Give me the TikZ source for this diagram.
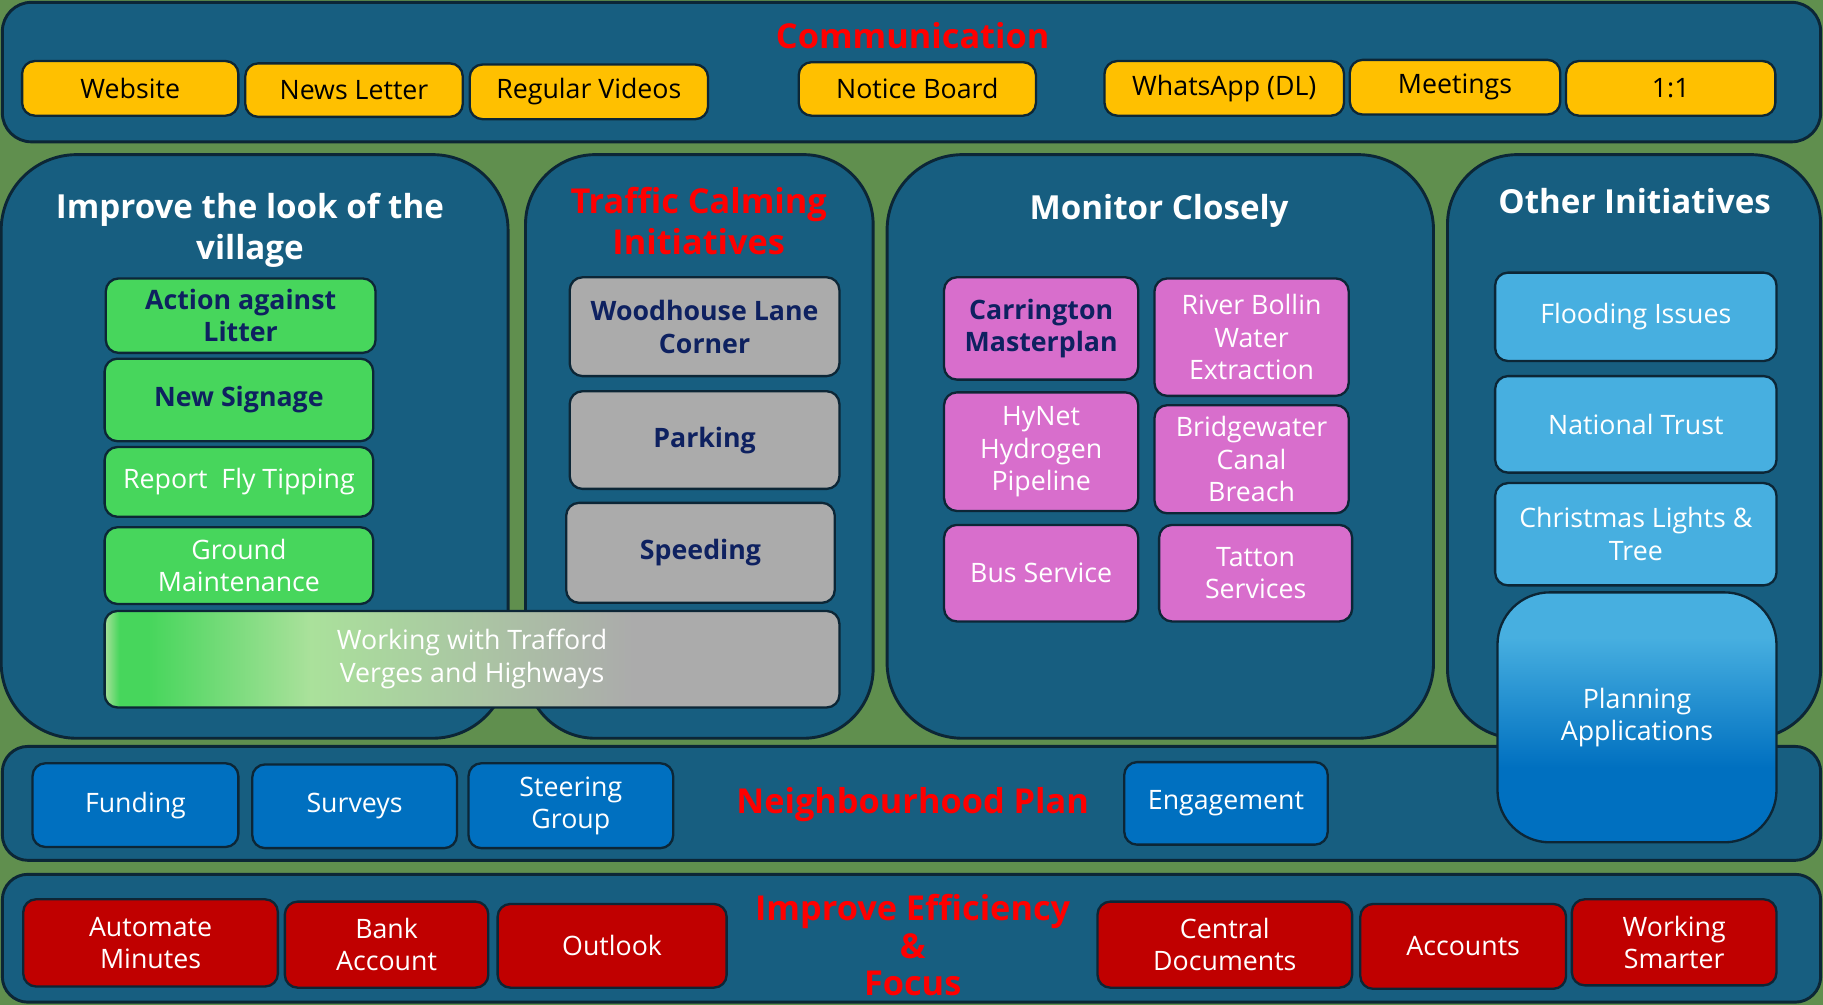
\documentclass[tikz,border=0pt]{standalone}
\usepackage{fontspec}
\setmainfont{Open Sans}

\definecolor{bggreen}{RGB}{96,143,78}
\definecolor{panelblue}{RGB}{23,94,128}
\definecolor{edge}{RGB}{12,38,54}
\definecolor{navy}{RGB}{14,33,96}
\definecolor{yellowbox}{RGB}{255,192,0}
\definecolor{itgreen}{RGB}{71,214,92}
\definecolor{palegreen}{RGB}{170,225,155}
\definecolor{itgrey}{RGB}{171,171,171}
\definecolor{pinkbox}{RGB}{216,110,204}
\definecolor{skyblue}{RGB}{71,175,224}
\definecolor{itblue}{RGB}{0,112,192}
\definecolor{redbox}{RGB}{192,0,0}

\pgfdeclarehorizontalshading{vergeshade}{100bp}{color(0bp)=(itgreen); color(25bp)=(palegreen); color(26bp)=(itgreen); color(28bp)=(itgreen); color(39bp)=(palegreen); color(61bp)=(itgrey); color(100bp)=(itgrey)}
\pgfdeclareverticalshading{planshade}{100bp}{color(0bp)=(itblue); color(40bp)=(itblue); color(66bp)=(skyblue); color(100bp)=(skyblue)}

\begin{document}
\begin{tikzpicture}[x=1pt, y=-1pt,
    panel/.style={draw=edge, line width=2.5pt, fill=panelblue},
    item/.style={draw=edge, line width=2pt, rounded corners=11pt, align=center,
      inner sep=2pt, text=white, font=\fontsize{23}{28}\selectfont},
    ttl/.style={align=center, font=\bfseries\fontsize{28.5}{35}\selectfont},
    redttl/.style={ttl, text=red, font=\bfseries\fontsize{29.5}{35}\selectfont},
    yel/.style={item, fill=yellowbox, text=black},
    grn/.style={item, fill=itgreen},
    gry/.style={item, fill=itgrey},
    pnk/.style={item, fill=pinkbox},
    sky/.style={item, fill=skyblue},
    blu/.style={item, fill=itblue},
    rd/.style={item, fill=redbox},
    strong/.style={text=navy, font=\bfseries\fontsize{23}{28}\selectfont}]
  \useasboundingbox (0,0) rectangle (1568,864);
  \fill[bggreen] (0,0) rectangle (1568,864);

  % panels
  \draw[panel, rounded corners=25pt] (2,2) rectangle (1566,122);
  \draw[panel, rounded corners=65pt] (1,133) rectangle (437,635);
  \draw[panel, rounded corners=60pt] (452,133) rectangle (751,635);
  \draw[panel, rounded corners=65pt] (763,133) rectangle (1233,635);
  \draw[panel, rounded corners=60pt] (1245,133) rectangle (1566,635);
  \draw[panel, rounded corners=22pt] (2,642) rectangle (1566,740);
  \draw[panel, rounded corners=22pt] (2,752) rectangle (1566,862);

  % communication
  \node[redttl] (tcomm) at (785,31) {Communication};
  \node[yel, minimum width=186, minimum height=47] (web) at (112,76) {Website};
  \node[yel, minimum width=187, minimum height=46] (news) at (304.5,77.5) {News Letter};
  \node[yel, minimum width=205, minimum height=47] (videos) at (506.5,79) {Regular Videos};
  \node[yel, minimum width=204, minimum height=46] (notice) at (789,76.5) {Notice Board};
  \node[yel, minimum width=206, minimum height=47] (whatsapp) at (1053,76) {WhatsApp (DL)};
  \node[yel, minimum width=181, minimum height=47] (meetings) at (1251.5,75) {Meetings};
  \node[yel, minimum width=180, minimum height=47] (oneone) at (1437,76) {1:1};

  % improve the look of the village
  \node[ttl, text=white] (tlook) at (215,198) {Improve the look of the\\village};
  \node[grn, strong, minimum width=232, minimum height=64] (litter) at (207,271.5) {Action against\\Litter};
  \node[grn, strong, minimum width=231, minimum height=71] (signage) at (205.5,344) {New Signage};
  \node[grn, minimum width=231, minimum height=60] (tipping) at (205.5,414.5) {Report~ Fly Tipping};
  \node[grn, minimum width=231, minimum height=66] (ground) at (205.5,486.5) {Ground\\Maintenance};

  % traffic calming
  \node[redttl] (ttraffic) at (601,190) {Traffic Calming\\Initiatives};
  \node[gry, strong, minimum width=232, minimum height=85] (woodhouse) at (606,281) {Woodhouse Lane\\Corner};
  \node[gry, strong, minimum width=232, minimum height=84] (parking) at (606,378.5) {Parking};
  \node[gry, strong, minimum width=231, minimum height=86] (speeding) at (602.5,475.5) {Speeding};
  \node[item, shading=vergeshade, minimum width=632, minimum height=83] (verges) at (406,567) {Working with Trafford\\Verges and Highways};

  % monitor closely
  \node[ttl, text=white] (tmonitor) at (997,181) {Monitor Closely};
  \node[pnk, strong, minimum width=167, minimum height=88] (carrington) at (895.5,282.5) {Carrington\\Masterplan};
  \node[pnk, minimum width=167, minimum height=101] (bollin) at (1076.5,290) {River Bollin\\Water\\Extraction};
  \node[pnk, minimum width=167, minimum height=102] (hynet) at (895.5,388.5) {HyNet\\Hydrogen\\Pipeline};
  \node[pnk, minimum width=167, minimum height=93] (bridgewater) at (1076.5,395) {Bridgewater\\Canal\\Breach};
  \node[pnk, minimum width=167, minimum height=83] (bus) at (895.5,493) {Bus Service};
  \node[pnk, minimum width=166, minimum height=83] (tatton) at (1080,493) {Tatton\\Services};

  % other initiatives
  \node[ttl, text=white] (tother) at (1406,173) {Other Initiatives};
  \node[sky, minimum width=242, minimum height=76] (flooding) at (1407,272.5) {Flooding Issues};
  \node[sky, minimum width=242, minimum height=83] (trust) at (1407,365) {National Trust};
  \node[sky, minimum width=242, minimum height=88] (xmas) at (1407,459.5) {Christmas Lights \&\\Tree};

  % neighbourhood plan
  \node[redttl] (tplan) at (785,692) {Neighbourhood Plan};
  \node[blu, minimum width=177, minimum height=72] (funding) at (116.5,692.5) {Funding};
  \node[blu, minimum width=176, minimum height=72] (surveys) at (305,693.5) {Surveys};
  \node[blu, minimum width=176, minimum height=73] (steering) at (491,693) {Steering\\Group};
  \node[blu, minimum width=175, minimum height=71] (engagement) at (1054.5,691) {Engagement};
  \node[item, rounded corners=45pt, shading=planshade, minimum width=240, minimum height=215] (planning) at (1408,617) {Planning\\Applications};

  % improve efficiency & focus
  \node[redttl, font=\bfseries\fontsize{29.5}{32}\selectfont] (teff) at (785,813) {Improve Efficiency\\\&\\Focus};
  \node[rd, minimum width=219, minimum height=75] (minutes) at (129.5,811) {Automate\\Minutes};
  \node[rd, minimum width=175, minimum height=74] (bank) at (332.5,812.5) {Bank\\Account};
  \node[rd, minimum width=197, minimum height=72] (outlook) at (526.5,813.5) {Outlook};
  \node[rd, minimum width=219, minimum height=74] (central) at (1053.5,812.5) {Central\\Documents};
  \node[rd, minimum width=177, minimum height=73] (accounts) at (1258.5,814) {Accounts};
  \node[rd, minimum width=176, minimum height=74] (smarter) at (1440,810.5) {Working\\Smarter};
\end{tikzpicture}
\end{document}
